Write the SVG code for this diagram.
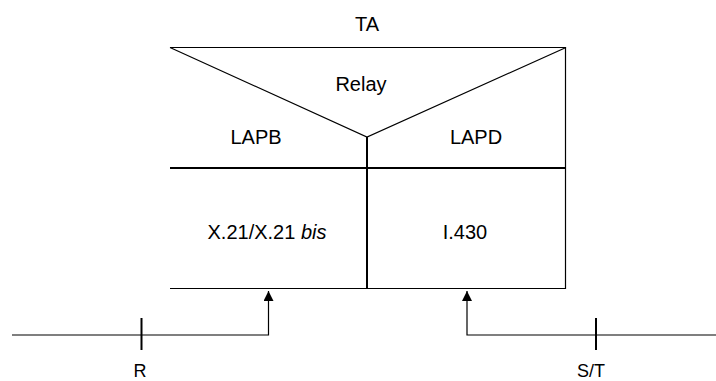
<svg xmlns="http://www.w3.org/2000/svg" width="716" height="381" viewBox="0 0 716 381">
<defs>
<style>
text{font-family:"Liberation Sans",Arial,sans-serif;font-size:20px;fill:#000;text-anchor:middle}
text.ref{font-size:18px}
.ln{stroke:#000;stroke-width:1.2;fill:none}
.thk{stroke:#000;stroke-width:2;fill:none}
</style>
<marker id="ah" viewBox="0 0 10 10" refX="10" refY="5" markerWidth="10" markerHeight="10" markerUnits="userSpaceOnUse" orient="auto">
<path d="M0,0 L10,5 L0,10 Z" fill="#000"/>
</marker>
</defs>
<rect width="716" height="381" fill="#fff"/>
<g id="ta">
<text x="367" y="31">TA</text>
<line class="ln" x1="170" y1="47.5" x2="566" y2="47.5"/>
<line class="ln" x1="565.5" y1="47" x2="565.5" y2="289"/>
<polyline class="ln" points="170,47.5 367,137 566,47.5"/>
<line class="thk" x1="170" y1="168" x2="566" y2="168"/>
<line class="thk" x1="367" y1="137" x2="367" y2="289"/>
<line class="ln" x1="170" y1="288.5" x2="566" y2="288.5"/>
</g>
<g id="relay"><text x="361" y="91">Relay</text></g>
<g id="lapb"><text x="256" y="144">LAPB</text></g>
<g id="lapd"><text x="476" y="144">LAPD</text></g>
<g id="x21"><text x="267" y="238.5">X.21/X.21 <tspan font-style="italic">bis</tspan></text></g>
<g id="i430"><text x="465" y="238.5">I.430</text></g>
<g id="refR">
<line class="ln" x1="12" y1="335" x2="141.5" y2="335"/>
<line class="thk" x1="141.5" y1="318" x2="141.5" y2="350"/>
<text class="ref" x="140" y="377">R</text>
</g>
<g id="refST">
<line class="ln" x1="596" y1="335" x2="716" y2="335"/>
<line class="thk" x1="596" y1="318" x2="596" y2="350"/>
<text class="ref" x="591" y="377">S/T</text>
</g>
<g id="connectors">
<polyline class="ln" points="141.5,335 268.5,335 268.5,291" marker-end="url(#ah)"/>
<polyline class="ln" points="596,335 467,335 467,291" marker-end="url(#ah)"/>
</g>
</svg>
